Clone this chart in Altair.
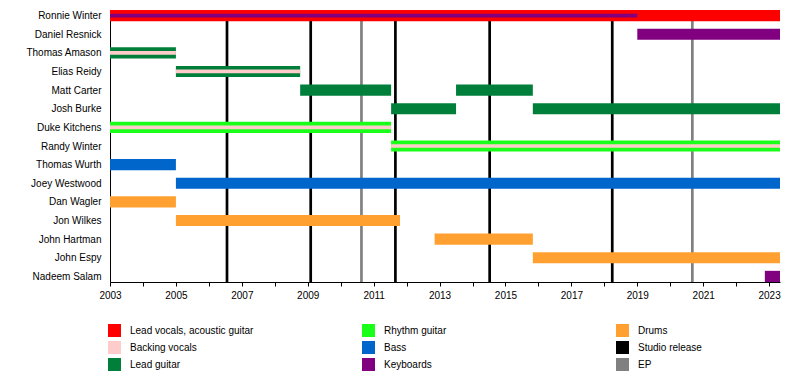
import json
import altair as alt
import pandas as pd

members = ["Ronnie Winter", "Daniel Resnick", "Thomas Amason", "Elias Reidy",
           "Matt Carter", "Josh Burke", "Duke Kitchens", "Randy Winter",
           "Thomas Wurth", "Joey Westwood", "Dan Wagler", "Jon Wilkes",
           "John Hartman", "John Espy", "Nadeem Salam"]

END = 2023.33

roles = ["Lead vocals, acoustic guitar", "Backing vocals", "Lead guitar",
         "Rhythm guitar", "Bass", "Keyboards",
         "Drums", "Studio release", "EP"]
role_colors = ["#FF0000", "#FFCCCC", "#007F3A",
               "#1AFF1A", "#0066CC", "#800080",
               "#FFA030", "#000000", "#808080"]

bar_member = ["Ronnie Winter", "Daniel Resnick", "Thomas Amason", "Elias Reidy",
              "Matt Carter", "Matt Carter", "Josh Burke", "Josh Burke",
              "Duke Kitchens", "Randy Winter", "Thomas Wurth", "Joey Westwood",
              "Dan Wagler", "Jon Wilkes", "John Hartman", "John Espy", "Nadeem Salam"]
bar_role = ["Lead vocals, acoustic guitar", "Keyboards", "Lead guitar", "Lead guitar",
            "Lead guitar", "Lead guitar", "Lead guitar", "Lead guitar",
            "Rhythm guitar", "Rhythm guitar", "Bass", "Bass",
            "Drums", "Drums", "Drums", "Drums", "Keyboards"]
bar_start = [2003, 2019.0, 2003, 2005.0,
             2008.77, 2013.5, 2011.53, 2015.83,
             2003, 2011.53, 2003, 2005.0,
             2003, 2005.0, 2012.85, 2015.83, 2022.87]
bar_end = [END, END, 2005.0, 2008.77,
           2011.53, 2015.83, 2013.5, END,
           2011.53, END, 2005.0, END,
           2005.0, 2011.8, 2015.83, END, END]

stripe_member = ["Ronnie Winter", "Thomas Amason", "Elias Reidy", "Duke Kitchens", "Randy Winter"]
stripe_role = ["Keyboards", "Backing vocals", "Backing vocals", "Backing vocals", "Backing vocals"]
stripe_start = [2003, 2003, 2005.0, 2003, 2011.53]
stripe_end = [2019.0, 2005.0, 2008.77, 2011.53, END]

release_type = ["Studio release"] * 5 + ["EP"] * 2
release_date = [2006.55, 2009.09, 2011.66, 2014.52, 2018.24, 2010.63, 2020.67]

FONT = "Liberation Sans"
BAR_HALF = 0.3
STRIPE_HALF = 0.1

bars = pd.DataFrame({"member": bar_member, "role": bar_role,
                     "start": bar_start, "end": bar_end})
bars["row"] = bars["member"].map(members.index)
bars["y0"] = bars["row"] - BAR_HALF
bars["y1"] = bars["row"] + BAR_HALF

stripes = pd.DataFrame({"member": stripe_member, "role": stripe_role,
                        "start": stripe_start, "end": stripe_end})
stripes["row"] = stripes["member"].map(members.index)
stripes["y0"] = stripes["row"] - STRIPE_HALF
stripes["y1"] = stripes["row"] + STRIPE_HALF

releases = pd.DataFrame({"role": release_type, "date": release_date})

xscale = alt.Scale(domain=[2003, END], nice=False, zero=False)
yscale = alt.Scale(domain=[-0.3, 14.3], reverse=True, nice=False, zero=False)
cscale = alt.Scale(domain=roles, range=role_colors)

xaxis = alt.Axis(values=list(range(2003, 2024)), format="d",
                 labelExpr="datum.value % 2 == 1 ? datum.label : ''",
                 title=None, grid=False, tickSize=4, tickColor="black",
                 domainColor="black", labelFont=FONT, labelFontSize=10,
                 labelColor="black", labelPadding=4, labelFlush=False,
                 labelOverlap=False)
yaxis = alt.Axis(values=list(range(len(members))),
                 labelExpr=json.dumps(members) + "[datum.value]",
                 title=None, grid=False, ticks=False, tickSize=0,
                 domainColor="black", labelFont=FONT, labelFontSize=10,
                 labelColor="black", labelPadding=9, labelOverlap=False,
                 minExtent=102, maxExtent=102)
legend = alt.Legend(title=None, orient="none", legendX=-2, legendY=314,
                    columns=3, gridAlign="all", symbolType="square",
                    symbolSize=169, symbolStrokeWidth=0, symbolOpacity=1,
                    labelFont=FONT, labelFontSize=10, labelColor="black",
                    labelOffset=9, columnPadding=108, rowPadding=4, padding=0)

color = alt.Color("role:N", scale=cscale, legend=legend)

rules = alt.Chart(releases).mark_rule(strokeWidth=2.7).encode(
    x=alt.X("date:Q", scale=xscale, axis=xaxis),
    color=color,
)
bar_layer = alt.Chart(bars).mark_bar(cornerRadius=0).encode(
    x=alt.X("start:Q", scale=xscale, axis=xaxis),
    x2="end:Q",
    y=alt.Y("y0:Q", scale=yscale, axis=yaxis),
    y2="y1:Q",
    color=color,
)
stripe_layer = alt.Chart(stripes).mark_bar(cornerRadius=0).encode(
    x=alt.X("start:Q", scale=xscale, axis=xaxis),
    x2="end:Q",
    y=alt.Y("y0:Q", scale=yscale, axis=yaxis),
    y2="y1:Q",
    color=color,
)

chart = alt.layer(rules, bar_layer, stripe_layer).properties(
    width=670, height=272, padding=0
).configure_view(stroke=None)

chart.save("out.html", embed_options={"renderer": "svg", "actions": False})
